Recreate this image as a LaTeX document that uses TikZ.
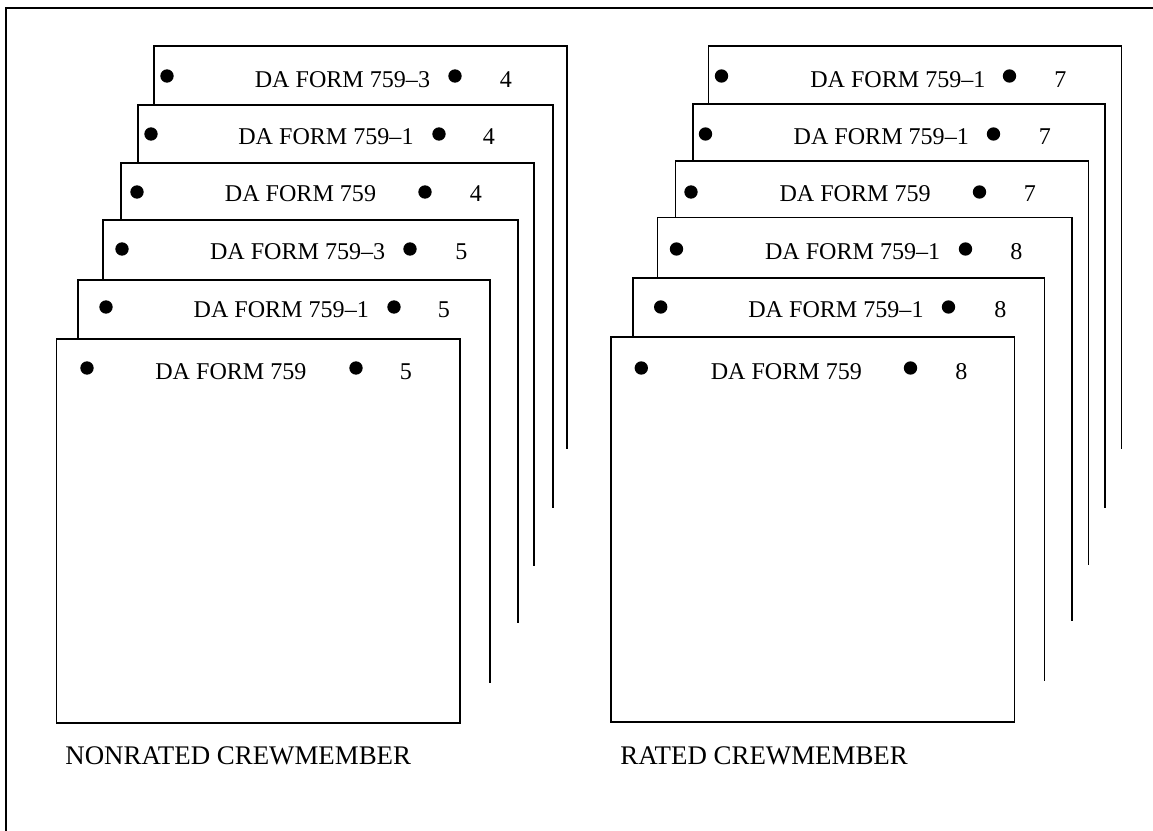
\documentclass[tikz,border=0pt]{standalone}
\usepackage{fontspec}
\setmainfont{Liberation Serif}
\tikzset{
    sheet/.style={line width=0.6pt},
    formtext/.style={anchor=west, inner sep=0pt, font=\fontsize{13.7}{16}\selectfont},
    pagenum/.style={inner sep=0pt, font=\fontsize{13.7}{16}\selectfont},
    crewlabel/.style={anchor=west, inner sep=0pt, font=\fontsize{15.3}{18}\selectfont},
    hole/.style={fill=black}
}

\begin{document}
\begin{tikzpicture}[x=0.02cm, y=-0.02cm, line join=miter]
            \useasboundingbox (0,0) rectangle (1153,831);
            \draw[line width=1.4pt] (6,831) -- (6,8) -- (1153,8);

            % nonrated stack, back to front
            \draw[sheet] (154,105) -- (154,46) -- (567,46) -- (567,449);
            \fill[hole] (167,76) circle (3.8pt) (455,76) circle (3.8pt);
            \node[formtext] (nrA) at (254.5,79.5) {DA FORM 759--3};
            \node[pagenum] (nrAp) at (506,79.5) {4};

            \draw[sheet] (138,163) -- (138,105) -- (553,105) -- (553,508);
            \fill[hole] (151,134) circle (3.8pt) (439,134) circle (3.8pt);
            \node[formtext] (nrB) at (238,136.7) {DA FORM 759--1};
            \node[pagenum] (nrBp) at (489,136.7) {4};

            \draw[sheet] (121,220) -- (121,163) -- (534,163) -- (534,566);
            \fill[hole] (137,192) circle (3.8pt) (425,192) circle (3.8pt);
            \node[formtext] (nrC) at (224.6,193.3) {DA FORM 759};
            \node[pagenum] (nrCp) at (476,193.3) {4};

            \draw[sheet] (103,280) -- (103,220) -- (518,220) -- (518,623);
            \fill[hole] (122,249) circle (3.8pt) (410,249) circle (3.8pt);
            \node[formtext] (nrD) at (209.7,251.7) {DA FORM 759--3};
            \node[pagenum] (nrDp) at (461.5,251.7) {5};

            \draw[sheet] (78,339) -- (78,280) -- (490,280) -- (490,683);
            \fill[hole] (106,307) circle (3.8pt) (394,307) circle (3.8pt);
            \node[formtext] (nrE) at (193.3,310) {DA FORM 759--1};
            \node[pagenum] (nrEp) at (444,310) {5};

            \draw[sheet] (56.5,339) rectangle (460,723);
            \fill[hole] (87,368) circle (3.8pt) (356,368) circle (3.8pt);
            \node[formtext] (nrF) at (155,371.7) {DA FORM 759};
            \node[pagenum] (nrFp) at (406,371.7) {5};

            % rated stack, back to front
            \draw[sheet] (708.5,104) -- (708.5,46) -- (1121.5,46) -- (1121.5,449);
            \fill[hole] (721.5,76) circle (3.8pt) (1009.5,76) circle (3.8pt);
            \node[formtext] (rA) at (809.9,79.5) {DA FORM 759--1};
            \node[pagenum] (rAp) at (1060.5,79.5) {7};

            \draw[sheet] (693,161) -- (693,104) -- (1105,104) -- (1105,508);
            \fill[hole] (705.5,134) circle (3.8pt) (993.5,134) circle (3.8pt);
            \node[formtext] (rB) at (793.3,136.7) {DA FORM 759--1};
            \node[pagenum] (rBp) at (1045,136.7) {7};

            \draw[sheet] (675.5,217.5) -- (675.5,161) -- (1088.5,161) -- (1088.5,565);
            \fill[hole] (691,192) circle (3.8pt) (979.5,192) circle (3.8pt);
            \node[formtext] (rC) at (779.2,193.3) {DA FORM 759};
            \node[pagenum] (rCp) at (1030,193.3) {7};

            \draw[sheet] (657.5,278) -- (657.5,217.5) -- (1072,217.5) -- (1072,621);
            \fill[hole] (676.5,249) circle (3.8pt) (965.5,249) circle (3.8pt);
            \node[formtext] (rD) at (764.7,251.7) {DA FORM 759--1};
            \node[pagenum] (rDp) at (1016.5,251.7) {8};

            \draw[sheet] (633,337) -- (633,278) -- (1044.5,278) -- (1044.5,681);
            \fill[hole] (660.7,307) circle (3.8pt) (948.5,307) circle (3.8pt);
            \node[formtext] (rE) at (748,310) {DA FORM 759--1};
            \node[pagenum] (rEp) at (1000.5,310) {8};

            \draw[sheet] (611,337) rectangle (1014.5,722);
            \fill[hole] (641.3,368) circle (3.8pt) (910.5,368) circle (3.8pt);
            \node[formtext] (rF) at (710.4,371.7) {DA FORM 759};
            \node[pagenum] (rFp) at (961.5,371.7) {8};

            \node[crewlabel] (nonrated) at (65,756) {NONRATED CREWMEMBER};
            \node[crewlabel] (rated) at (620,756) {RATED CREWMEMBER};
        \end{tikzpicture}
\end{document}
